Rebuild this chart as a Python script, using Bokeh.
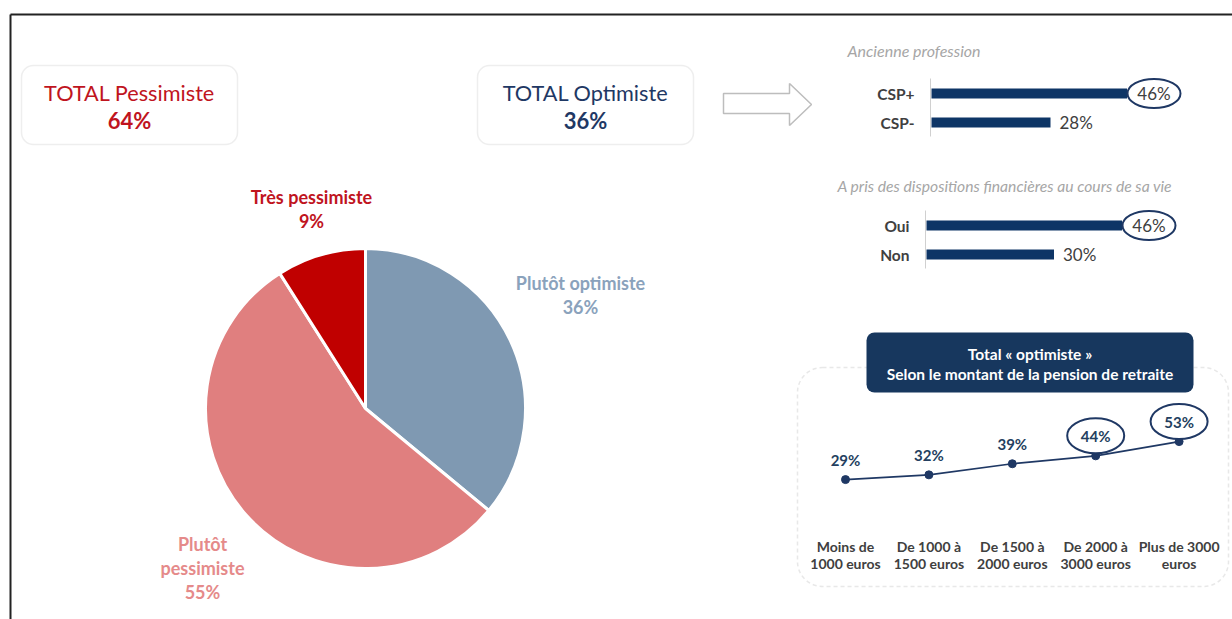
import numpy as np
from bokeh.plotting import figure
from bokeh.models import Range1d, ColumnDataSource, BoxAnnotation
from bokeh.core.properties import value
from bokeh.embed import file_html
from bokeh.resources import INLINE

# ---------------- data ----------------
pie_labels = [["Plutôt optimiste"], ["Plutôt", "pessimiste"], ["Très pessimiste"]]
pie_values = [36, 55, 9]
pie_colors = ["#7F99B2", "#E07F7F", "#C00000"]
pie_text_colors = ["#8AA2BC", "#E58A8A", "#C0141E"]

total_labels = ["TOTAL Pessimiste", "TOTAL Optimiste"]
total_values = [64, 36]
total_colors = ["#C0141E", "#1F3864"]

prof_title = "Ancienne profession"
prof_cats = ["CSP+", "CSP-"]
prof_values = [46, 28]

disp_title = "A pris des dispositions financières au cours de sa vie"
disp_cats = ["Oui", "Non"]
disp_values = [46, 30]

pension_title = ["Total « optimiste »", "Selon le montant de la pension de retraite"]
pension_cats_l1 = ["Moins de", "De 1000 à", "De 1500 à", "De 2000 à", "Plus de 3000"]
pension_cats_l2 = ["1000 euros", "1500 euros", "2000 euros", "3000 euros", "euros"]
pension_values = [29, 32, 39, 44, 53]
pension_highlight = [False, False, False, True, True]

# ---------------- layout constants ----------------
FONT = "Lato"
NAVY = "#1F3864"
BARC = "#0E3566"
DARK = "#404040"
W, H = 1232, 619
X0, Y0 = 0, 0

p = figure(width=W, height=H, output_backend="svg", toolbar_location=None,
           x_range=Range1d(X0, X0 + W), y_range=Range1d(Y0 + H, Y0),
           x_axis_type=None, y_axis_type=None, min_border=0,
           outline_line_color=None, background_fill_color="white")
p.xgrid.visible = False
p.ygrid.visible = False

# frame lines of the slide
p.line([10, 1232], [14, 14], line_color="#222222", line_width=2)
p.line([10, 10], [14, 619], line_color="#222222", line_width=2)

# ---------------- total boxes ----------------
box_left = [21, 477]
for i in range(2):
    p.add_layout(BoxAnnotation(left=box_left[i], right=box_left[i] + 216, top=65, bottom=144,
                               fill_color="white", fill_alpha=1, line_color="#C8C8C8",
                               line_width=1.5, border_radius=12, level="underlay"))
tsrc = ColumnDataSource(dict(x=[b + 108 for b in box_left], t=total_labels,
                             v=[f"{v}%" for v in total_values], c=total_colors))
p.text(x="x", y=92, text="t", source=tsrc, text_color="c", text_font=value(FONT),
       text_font_size="21.7px", text_align="center", text_baseline="middle")
p.text(x="x", y=120, text="v", source=tsrc, text_color="c", text_font=value(FONT),
       text_font_size="22px", text_font_style="bold", text_align="center", text_baseline="middle")

# arrow
p.patch([723, 789, 789, 811, 789, 789, 723], [93, 93, 83, 104, 125, 113, 113],
        fill_color="white", line_color="#BDBDBD", line_width=1.5)

# ---------------- pie ----------------
frac = np.array(pie_values) / sum(pie_values) * 2 * np.pi
cum = np.concatenate([[0], np.cumsum(frac)])
starts = np.pi / 2 - cum[:-1]
ends = np.pi / 2 - cum[1:]
psrc = ColumnDataSource(dict(s=starts, e=ends, c=pie_colors))
p.wedge(x=365, y=408, radius=160, start_angle="s", end_angle="e", direction="clock",
        fill_color="c", line_color="white", line_width=3, source=psrc)

pie_lab_x = [580, 202, 311]
pie_lab_top = [282, 543, 196]
for i in range(3):
    lines = pie_labels[i] + [f"{pie_values[i]}%"]
    ys = [pie_lab_top[i] + 24 * k for k in range(len(lines))]
    xs = [pie_lab_x[i]] * len(lines)
    p.text(x=xs, y=ys, text=lines, text_color=pie_text_colors[i],
           text_font=value(FONT), text_font_size="18px", text_font_style="bold",
           text_align="center", text_baseline="middle")

# ---------------- bar panels ----------------
SCALE = 4.25  # px per %
def bar_panel(name, origin, cats, vals, ys, title, title_x, title_y, title_size, axis_top, axis_bottom):
    p.extra_x_ranges[name] = Range1d((X0 - origin) / SCALE, (X0 + W - origin) / SCALE)
    p.text(x=[title_x], y=[title_y], text=[title], text_color="#A6A6A6", text_font=value(FONT),
           text_font_size=title_size, text_font_style="italic", text_align="left", text_baseline="middle")
    p.line([origin - 1, origin - 1], [axis_top, axis_bottom], line_color="#D0D0D0", line_width=1)
    src = ColumnDataSource(dict(y=ys, v=vals, c=cats, t=[f"{v}%" for v in vals]))
    p.hbar(y="y", left=0, right="v", height=10, fill_color=BARC, line_color=None,
           source=src, x_range_name=name)
    p.text(x=origin - 17, y="y", text="c", source=src, text_color=DARK, text_font=value(FONT),
           text_font_size="15.5px", text_font_style="bold", text_align="right", text_baseline="middle")
    vmax = max(vals)
    hi = [i for i, v in enumerate(vals) if v == vmax]
    lo = [i for i, v in enumerate(vals) if v != vmax]
    p.ellipse(x=[vals[i] + 27 / SCALE for i in hi], y=[ys[i] for i in hi], width=53, height=29,
              width_units="screen", height_units="screen", fill_color="white",
              line_color=NAVY, line_width=2, x_range_name=name)
    p.text(x=[vals[i] + 27 / SCALE for i in hi], y=[ys[i] for i in hi],
           text=[f"{vals[i]}%" for i in hi], text_color=DARK, text_font=value(FONT),
           text_font_size="17px", text_align="center", text_baseline="middle", x_range_name=name)
    p.text(x=[vals[i] for i in lo], y=[ys[i] for i in lo], text=[f"{vals[i]}%" for i in lo],
           x_offset=9, text_color=DARK, text_font=value(FONT), text_font_size="17px",
           text_align="left", text_baseline="middle", x_range_name=name)

bar_panel("prof", 931, prof_cats, prof_values, [93, 122], prof_title, 847, 50, "16px", 78, 136)
bar_panel("disp", 926, disp_cats, disp_values, [225, 254], disp_title, 837, 185, "15.7px", 210, 268)

# ---------------- pension line panel ----------------
p.add_layout(BoxAnnotation(left=797, right=1228, top=367, bottom=586, fill_color=None,
                           line_color="#B4B4B4", line_width=1.5, line_dash="4 3",
                           border_radius=25, level="underlay"))
p.add_layout(BoxAnnotation(left=866, right=1193, top=332, bottom=392, fill_color="#17375E",
                           fill_alpha=1, line_color=None, border_radius=8, level="underlay"))
p.text(x=[1029.5, 1029.5], y=[353, 373], text=pension_title, text_color="white",
       text_font=value(FONT), text_font_size="15.5px", text_font_style="bold",
       text_align="center", text_baseline="middle")

LX0, LDX = 845, 83.4        # px of first category, px between categories
LY0, LK = 525, 1.583        # px of value 0, px per %
p.extra_x_ranges["lx"] = Range1d((X0 - LX0) / LDX, (X0 + W - LX0) / LDX)
p.extra_y_ranges["ly"] = Range1d((LY0 - (Y0 + H)) / LK, (LY0 - Y0) / LK)

idx = list(range(len(pension_values)))
lsrc = ColumnDataSource(dict(x=idx, v=pension_values, t=[f"{v}%" for v in pension_values],
                             c1=pension_cats_l1, c2=pension_cats_l2))
p.line(x="x", y="v", source=lsrc, line_color=NAVY, line_width=1.6,
       x_range_name="lx", y_range_name="ly")
p.scatter(x="x", y="v", source=lsrc, size=8, fill_color=NAVY, line_color=NAVY,
          x_range_name="lx", y_range_name="ly")
hsrc = ColumnDataSource(dict(x=[i for i in idx if pension_highlight[i]],
                             v=[pension_values[i] + 20 / LK for i in idx if pension_highlight[i]]))
p.ellipse(x="x", y="v", source=hsrc, width=57, height=35, width_units="screen",
          height_units="screen", fill_color="white", line_color=NAVY, line_width=2,
          x_range_name="lx", y_range_name="ly")
p.text(x="x", y="v", text="t", source=lsrc, y_offset=-20, text_color="#243F60",
       text_font=value(FONT), text_font_size="15px", text_font_style="bold",
       text_align="center", text_baseline="middle", x_range_name="lx", y_range_name="ly")
p.text(x="x", y=546, text="c1", source=lsrc, text_color=DARK, text_font=value(FONT),
       text_font_size="14px", text_font_style="bold", text_align="center",
       text_baseline="middle", x_range_name="lx")
p.text(x="x", y=563, text="c2", source=lsrc, text_color=DARK, text_font=value(FONT),
       text_font_size="14px", text_font_style="bold", text_align="center",
       text_baseline="middle", x_range_name="lx")

open("out.html", "w").write(file_html(p, INLINE))
